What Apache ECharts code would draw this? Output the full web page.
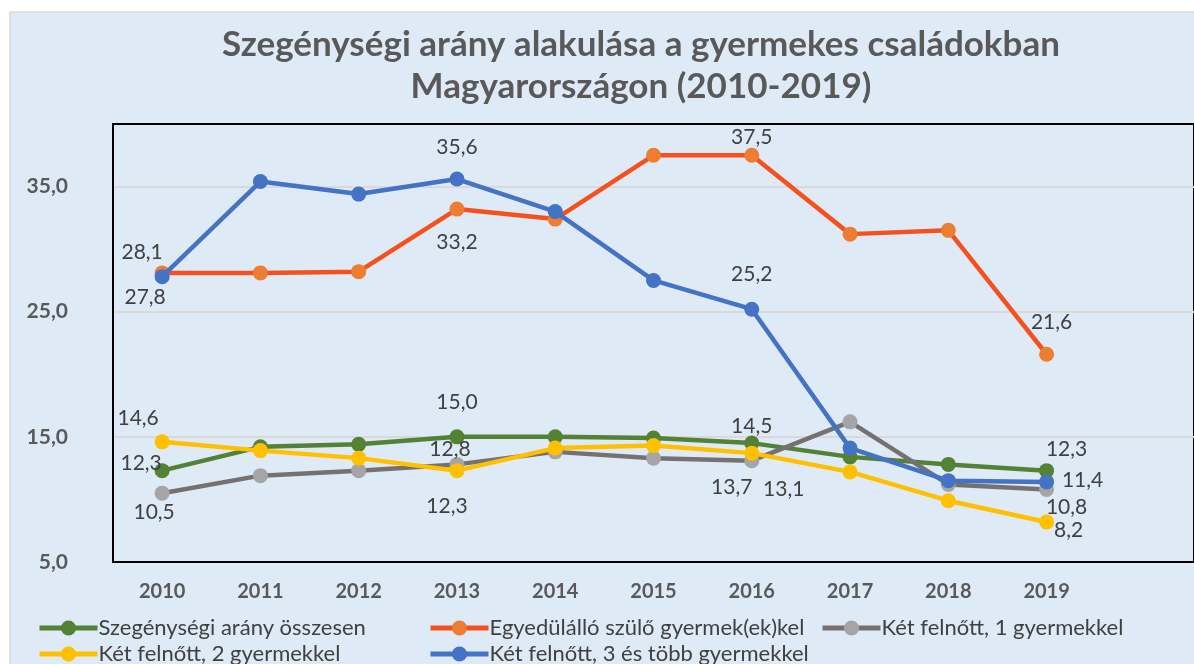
<!DOCTYPE html>
<html>
<head>
<meta charset="utf-8">
<script src="https://cdn.jsdelivr.net/npm/echarts@6/dist/echarts.min.js"></script>
<style>
  html, body { margin: 0; padding: 0; background: #fff; }
  #chart { width: 1194px; height: 664px; }
</style>
</head>
<body>
<div id="chart"></div>
<script>
// évek (az utolsó üres kategória csak helyet foglal, mint az eredeti ábrán)
var years = ['2010', '2011', '2012', '2013', '2014', '2015', '2016', '2017', '2018', '2019', ''];

var osszesen   = [12.3, 14.2, 14.4, 15.0, 15.0, 14.9, 14.5, 13.4, 12.8, 12.3];
var egyszulo   = [28.1, 28.1, 28.2, 33.2, 32.4, 37.5, 37.5, 31.2, 31.5, 21.6];
var egyGyerek  = [10.5, 11.9, 12.3, 12.8, 13.8, 13.3, 13.1, 16.2, 11.2, 10.8];
var ketGyerek  = [14.6, 13.9, 13.3, 12.3, 14.1, 14.3, 13.7, 12.2, 9.9, 8.2];
var haromGyerek = [27.8, 35.4, 34.4, 35.6, 33.0, 27.5, 25.2, 14.1, 11.5, 11.4];

var seriesNames = [
  'Szegénységi arány összesen',
  'Egyedülálló szülő gyermek(ek)kel',
  'Két felnőtt, 1 gyermekkel',
  'Két felnőtt, 2 gyermekkel',
  'Két felnőtt, 3 és több gyermekkel'
];

// címkék: index -> [dx, dy] a pont közepétől
var labelOffsets = [
  { 0: [-21, -7], 3: [0, -35], 6: [0, -17], 9: [20, -21] },
  { 0: [-20, -21], 3: [0, 33], 6: [0, -18], 9: [5, -32] },
  { 0: [-8, 19], 3: [-7, -15], 6: [32, 29], 9: [20, 18] },
  { 0: [-24, -24], 3: [-10, 36], 6: [-20, 34], 9: [22, 8] },
  { 0: [-17, 21], 3: [0, -32], 6: [0, -35], 9: [36, -2] }
];

var lineColors = ['#538135', '#F4511E', '#767171', '#FFC000', '#4472C4'];
var markColors = ['#548235', '#ED7D31', '#A5A5A5', '#FFC000', '#4472C4'];
var allData = [osszesen, egyszulo, egyGyerek, ketGyerek, haromGyerek];

function fmt(v) {
  return v.toFixed(1).replace('.', ',');
}

var FONT = 'Lato, "Noto Sans", sans-serif';

var series = allData.map(function (arr, s) {
  return {
    name: seriesNames[s],
    type: 'line',
    symbol: 'circle',
    symbolSize: 15,
    z: 2 + s,
    lineStyle: { color: lineColors[s], width: 4.5 },
    itemStyle: { color: markColors[s] },
    emphasis: { disabled: true },
    data: arr.map(function (v, i) {
      var off = labelOffsets[s][i];
      if (!off) return v;
      return {
        value: v,
        label: {
          show: true,
          position: 'inside',
          offset: off,
          formatter: function (p) { return fmt(p.value); },
          fontFamily: FONT,
          fontSize: 21,
          color: '#404040',
          align: 'center',
          verticalAlign: 'middle'
        }
      };
    })
  };
});

var legendPos = [[37, 617], [428, 617], [820, 617], [37, 643], [428, 643]];
var legends = seriesNames.map(function (n, s) {
  return {
    data: [n],
    left: legendPos[s][0],
    top: legendPos[s][1],
    padding: 0,
    itemWidth: 58,
    itemHeight: 19,
    itemGap: 0,
    selectedMode: false,
    lineStyle: { width: 5 },
    textStyle: { fontFamily: FONT, fontSize: 22, color: '#404040', padding: [0, 0, 0, -4] }
  };
});

var chart = echarts.init(document.getElementById('chart'));
chart.setOption({
  backgroundColor: '#ffffff',
  animation: false,
  graphic: [{
    type: 'rect',
    z: -10,
    shape: { x: 10, y: 12, width: 1200, height: 700 },
    style: { fill: '#DEEAF6', stroke: '#D9D9D9', lineWidth: 1.5 }
  }],
  title: {
    text: 'Szegénységi arány alakulása a gyermekes családokban\nMagyarországon (2010-2019)',
    left: 641,
    top: 24,
    padding: 0,
    textAlign: 'center',
    textStyle: {
      fontFamily: FONT,
      fontSize: 35,
      fontWeight: 'bold',
      color: '#595959',
      lineHeight: 42
    }
  },
  legend: legends,
  grid: {
    left: 113,
    top: 124,
    width: 1087,
    height: 438,
    show: true,
    borderColor: '#000',
    borderWidth: 2,
    backgroundColor: 'transparent'
  },
  xAxis: [{
    type: 'category',
    data: years,
    boundaryGap: true,
    axisLine: { show: true, lineStyle: { color: '#000', width: 2 } },
    axisTick: { show: false },
    axisLabel: {
      margin: 20,
      fontFamily: FONT,
      fontSize: 20,
      fontWeight: 'bold',
      color: '#595959'
    }
  }, {
    type: 'category',
    position: 'top',
    data: years,
    axisLine: { show: true, lineStyle: { color: '#000', width: 2 } },
    axisTick: { show: false },
    axisLabel: { show: false }
  }],
  yAxis: {
    type: 'value',
    min: 5,
    max: 40,
    interval: 10,
    axisLine: { show: true, lineStyle: { color: '#000', width: 2 } },
    axisTick: { show: false },
    splitLine: { showMinLine: false, showMaxLine: false, lineStyle: { color: '#D9D9D9', width: 2 } },
    axisLabel: {
      margin: 45,
      showMaxLabel: false,
      fontFamily: FONT,
      fontSize: 21,
      fontWeight: 'bold',
      color: '#595959',
      formatter: function (v) { return v === 40 ? '' : fmt(v); }
    }
  },
  series: series
});
</script>
</body>
</html>
